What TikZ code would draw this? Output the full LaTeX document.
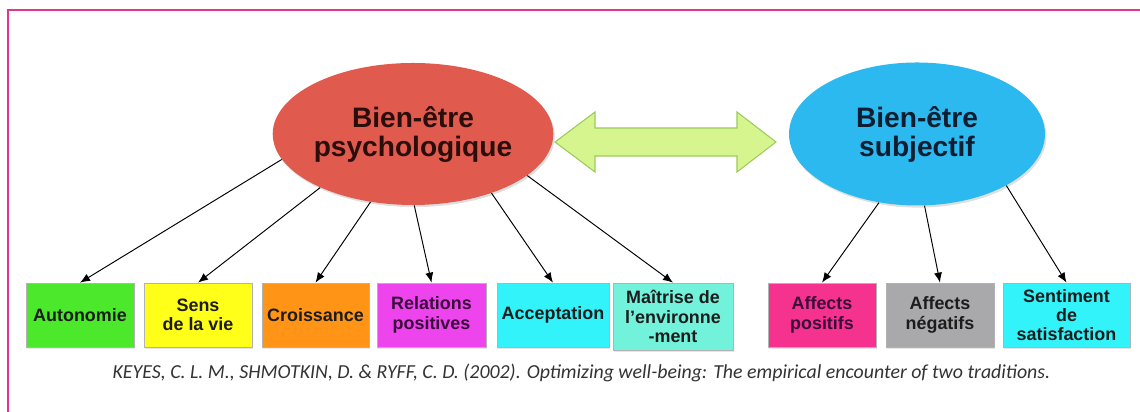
\documentclass[tikz,border=0pt]{standalone}
\usepackage{fontspec}
\setmainfont{Liberation Sans}
\newfontfamily\citefont{Carlito}
\usetikzlibrary{shapes.geometric,shadows,arrows.meta}

\definecolor{framepink}{HTML}{E0368F}
\definecolor{psyred}{HTML}{E05A4E}
\definecolor{psytext}{HTML}{2A0E0C}
\definecolor{subblue}{HTML}{2CB9EF}
\definecolor{subtext}{HTML}{0E1E30}
\definecolor{linkfill}{HTML}{D6F58E}
\definecolor{linkdraw}{HTML}{9BCB5A}
\definecolor{boxtext}{HTML}{1C1C1C}
\definecolor{boxpurple}{HTML}{3A0C3A}
\definecolor{cgreen}{HTML}{4CE82C}
\definecolor{cyellow}{HTML}{FFFF1A}
\definecolor{corange}{HTML}{FF9416}
\definecolor{cmagenta}{HTML}{EE44EE}
\definecolor{ccyan}{HTML}{33F3FA}
\definecolor{caqua}{HTML}{72F2DA}
\definecolor{cpink}{HTML}{F5338F}
\definecolor{cgray}{HTML}{A9A9AB}

\tikzset{
	bubble/.style={ellipse, inner sep=0pt, align=center,
		font=\fontsize{16}{16.5}\selectfont\bfseries,
		drop shadow={shadow xshift=0.8pt, shadow yshift=-1.2pt, opacity=0.25}},
	facet/.style={rectangle, draw=black!30, line width=0.4pt, minimum height=1.28cm,
		inner sep=1pt, align=center, text=boxtext,
		font=\fontsize{10.2}{11}\selectfont\bfseries,
		drop shadow={shadow xshift=0.8pt, shadow yshift=-1pt, opacity=0.2}},
	link/.style={-{Latex[length=2mm,width=1.6mm]}, line width=0.55pt}
}

\begin{document}
\begin{tikzpicture}
	\useasboundingbox (0,0) rectangle (22.8,8.24);
	%frame
		\draw[framepink, line width=1.1pt] (0.16,0) -- (0.16,8.04) -- (22.8,8.04);
	%ellipses
		\node[bubble, fill=psyred, text=psytext, minimum width=5.2cm, minimum height=2.84cm]
			(psy) at (8.26,5.56) {Bien-être\\psychologique};
		\node[bubble, fill=subblue, text=subtext, minimum width=5.12cm, minimum height=2.86cm]
			(sub) at (18.34,5.56) {Bien-être\\subjectif};
	%double arrow between the two
		\draw[linkdraw, fill=linkfill, line width=0.6pt] (11.1,5.4) -- (11.9,6.0) -- (11.9,5.68)
			-- (14.74,5.68) -- (14.74,6.0) -- (15.52,5.4) -- (14.74,4.8) -- (14.74,5.12)
			-- (11.9,5.12) -- (11.9,4.8) -- cycle;
	%boxes psychologique
		\node[facet, fill=cgreen, minimum width=2.16cm] (auto) at (1.6,1.94) {Autonomie};
		\node[facet, fill=cyellow, minimum width=2.16cm] (sens) at (3.96,1.94) {Sens\\de la vie};
		\node[facet, fill=corange, minimum width=2.14cm] (crois) at (6.31,1.94) {Croissance};
		\node[facet, fill=cmagenta, text=boxpurple, minimum width=2.18cm] (rel) at (8.63,1.94) {Relations\\positives};
		\node[facet, fill=ccyan, minimum width=2.24cm] (accept) at (11.06,1.94) {Acceptation};
		\node[facet, fill=caqua, minimum width=2.4cm, minimum height=1.34cm] (maitr) at (13.46,1.91) {Maîtrise de\\l’environne\\-ment};
	%boxes subjectif
		\node[facet, fill=cpink, text=boxpurple, minimum width=2.16cm] (affpos) at (16.44,1.94) {Affects\\positifs};
		\node[facet, fill=cgray, minimum width=2.16cm] (affneg) at (18.8,1.94) {Affects\\négatifs};
		\node[facet, fill=ccyan, minimum width=2.54cm] (satis) at (21.33,1.94) {Sentiment\\de\\satisfaction};
	%arrows
		\draw[link] (psy.191.5) -- (auto.north);
		\draw[link] (psy.210) -- (sens.north);
		\draw[link] (psy.238) -- (crois.north);
		\draw[link] (psy.271.5) -- (rel.north);
		\draw[link] (psy.323) -- (accept.north);
		\draw[link] (psy.340) -- (maitr.north);
		\draw[link] (sub.241) -- (affpos.north);
		\draw[link] (sub.276) -- (affneg.north);
		\draw[link] (sub.330) -- (satis.north);
	%citation
		\node[font=\citefont\itshape\fontsize{11.3}{13}\selectfont, text=black!80] (cite) at (11.63,0.78)
			{KEYES, C. L. M., SHMOTKIN, D. \& RYFF, C. D. (2002). Optimizing well-being: The empirical encounter of two traditions.};
\end{tikzpicture}
\end{document}
